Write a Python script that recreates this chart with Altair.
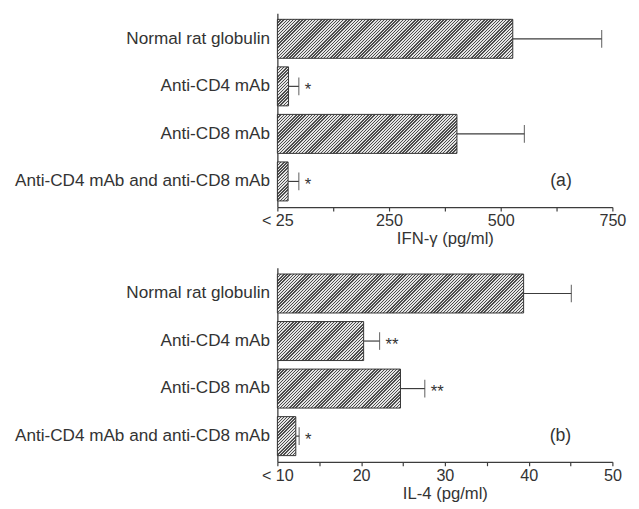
import altair as alt
import pandas as pd

groups = ["Normal rat globulin", "Anti-CD4 mAb", "Anti-CD8 mAb",
          "Anti-CD4 mAb and anti-CD8 mAb"]

ifn_mean = [527, 25, 402, 24]
ifn_err = [726, 48, 553, 48]
ifn_sig = ["", "*", "", "*"]
ifn_ticks = [0, 125, 250, 375, 500, 625, 750]

il4_mean = [39.4, 20.3, 24.7, 12.2]
il4_err = [45.1, 22.2, 27.6, 12.6]
il4_sig = ["", "**", "**", "*"]
il4_ticks = [10, 15, 20, 25, 30, 35, 40, 45, 50]

TXT = "#333333"
LINE = "#3c3c3c"
FONT = "Liberation Sans"
W = 342
H = 198
P_IN = 0.18
P_OUT = 0.13


def hatch(wpx, hpx, q=3.2, frac=0.45, dark="#4d4d4d", light="#e4e4e4"):
    """Diagonal '////' stripe fill as a bounding-box linear gradient."""
    wpx = max(wpx, 1.0)
    c = (wpx + hpx) / (wpx * wpx + hpx * hpx)
    total = wpx + hpx
    stops = []
    pos = 0.0
    while pos < total:
        o1 = pos / total
        o2 = min((pos + q * frac) / total, 1.0)
        o3 = min((pos + q) / total, 1.0)
        for off, col in ((o1, dark), (o2, dark), (o2, light), (o3, light)):
            stops.append({"offset": round(off, 5), "color": col})
        pos += q
    return {"gradient": "linear", "x1": 0, "y1": 0,
            "x2": round(c * wpx, 5), "y2": round(c * hpx, 5), "stops": stops}


def panel(mean, err, sig, domain, ticks, label_expr, title, tag, tag_x):
    df = pd.DataFrame({"group": groups, "mean": mean, "err": err,
                       "sig": sig, "base": [domain[0]] * len(groups)})
    yenc = alt.Y("group:N", sort=groups,
                 scale=alt.Scale(paddingInner=P_IN, paddingOuter=P_OUT),
                 axis=alt.Axis(title=None, ticks=False, labelPadding=8,
                               labelFontSize=17.5, labelColor=TXT, labelFont=FONT,
                               domainColor=LINE, domainWidth=1.3, labelLimit=400))
    xs = alt.Scale(domain=domain, nice=False, zero=False)
    x_axis = alt.Axis(values=ticks, labelExpr=label_expr, title=title,
                      tickSize=4, tickColor=LINE, tickWidth=1.2,
                      grid=False, labelPadding=2, titlePadding=2,
                      labelFontSize=16.5, titleFontSize=17,
                      labelColor=TXT, titleColor=TXT, titleFontWeight="normal",
                      labelFont=FONT, titleFont=FONT,
                      domainColor=LINE, domainWidth=1.3, labelFlush=False)
    base = alt.Chart(df)
    step = H / (len(groups) - P_IN + 2 * P_OUT)
    band_h = step * (1 - P_IN)
    layers = []
    for i, g in enumerate(groups):
        wpx = (mean[i] - domain[0]) / (domain[1] - domain[0]) * W
        b = base.transform_filter(alt.datum.group == g).mark_bar(
            fill=hatch(wpx, band_h), stroke="#333333", strokeWidth=1).encode(
            x=alt.X("base:Q", scale=xs, axis=x_axis),
            x2="mean:Q",
            y=yenc,
        )
        layers.append(b)
    rule = base.mark_rule(color=LINE, strokeWidth=1.2).encode(
        x="mean:Q", x2="err:Q", y=alt.Y("group:N", sort=groups))
    cap = base.mark_tick(color=LINE, thickness=1.2, size=18).encode(
        x="err:Q", y=alt.Y("group:N", sort=groups))
    stars = base.mark_text(align="left", baseline="middle", dx=6, dy=4,
                           fontSize=17, color=TXT, font=FONT).encode(
        x="err:Q", y=alt.Y("group:N", sort=groups), text="sig:N")
    tdf = pd.DataFrame({"x": [tag_x], "group": [groups[-1]], "t": [tag]})
    tagm = alt.Chart(tdf).mark_text(fontSize=18, color=TXT, font=FONT,
                                    baseline="middle").encode(
        x="x:Q", y=alt.Y("group:N", sort=groups), text="t:N")
    return alt.layer(*layers, rule, cap, stars, tagm).properties(width=W, height=H)


top = panel(ifn_mean, ifn_err, ifn_sig, [0, 750], ifn_ticks,
            "datum.value == 0 ? '< 25' : (datum.value % 250 == 0 ? datum.label : '')",
            "IFN-γ (pg/ml)", "(a)", 635)
bottom = panel(il4_mean, il4_err, il4_sig, [10, 50], il4_ticks,
               "datum.value == 10 ? '< 10' : (datum.value % 10 == 0 ? datum.label : '')",
               "IL-4 (pg/ml)", "(b)", 43.8)

chart = alt.vconcat(top, bottom, spacing=21).configure_view(
    stroke=None).properties(
    padding={"left": 6, "top": 0, "right": 5, "bottom": 5},
    background="white")

chart.save("out.html", embed_options={"renderer": "svg", "actions": False})
